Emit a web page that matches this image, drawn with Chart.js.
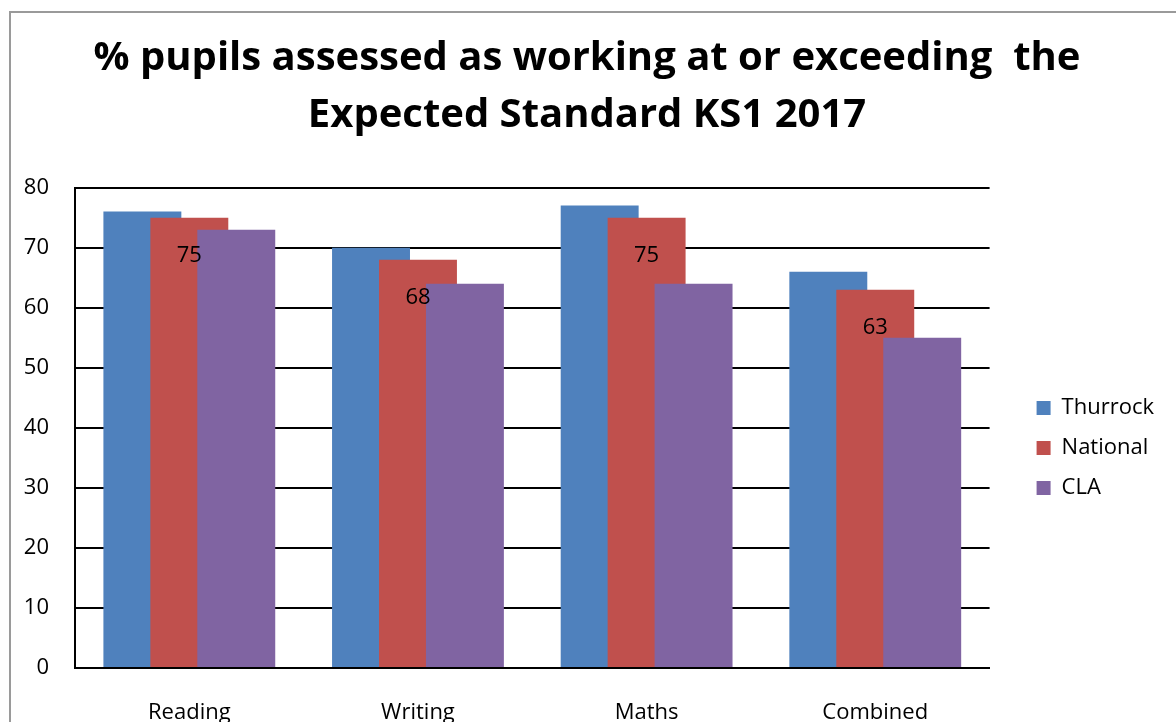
<!DOCTYPE html>
<html>
<head>
<meta charset="utf-8">
<script src="https://cdn.jsdelivr.net/npm/chart.js@4/dist/chart.umd.min.js"></script>
<style>
  body { margin: 0; background: #fff; }
  #frame { position: absolute; left: 9px; top: 11px; width: 1300px; height: 900px; border: 2px solid #9a9a9a; }
  #wrap { position: absolute; left: 0; top: 0; width: 1176px; height: 722px; }
</style>
</head>
<body>
<div id="frame"></div>
<div id="wrap"><canvas id="myChart" width="1176" height="722"></canvas></div>
<script>
var categories = ["Reading", "Writing", "Maths", "Combined"];
var thurrock = [76, 70, 77, 66];
var national = [75, 68, 75, 63];
var cla = [73, 64, 64, 55];
var yTicks = [0, 10, 20, 30, 40, 50, 60, 70, 80];

var font = "'Open Sans', 'Noto Sans', sans-serif";

// bars overlap like Excel: later series sit on top, National gets value labels
var overlapPlugin = {
    id: "overlap",
    beforeDatasetsDraw: function (chart) {
        var metas = chart.getSortedVisibleDatasetMetas().slice().sort(function (a, b) { return a.index - b.index; });
        metas.forEach(function (m) { m.controller.draw(); });

        var ctx = chart.ctx;
        var meta = chart.getDatasetMeta(1);
        ctx.save();
        ctx.fillStyle = "#000";
        ctx.font = "22px " + font;
        ctx.textAlign = "center";
        ctx.textBaseline = "middle";
        meta.data.forEach(function (bar, i) {
            ctx.fillText(String(national[i]), bar.x, bar.y + 38);
        });
        ctx.restore();
        return false;
    }
};

new Chart("myChart", {
    type: "bar",
    data: {
        labels: categories,
        datasets: [
            { label: "Thurrock", data: thurrock, backgroundColor: "#4F81BD" },
            { label: "National", data: national, backgroundColor: "#C0504D" },
            { label: "CLA", data: cla, backgroundColor: "#8064A2" }
        ]
    },
    options: {
        responsive: false,
        animation: false,
        datasets: {
            bar: { categoryPercentage: 0.616, barPercentage: 1.66 }
        },
        layout: { padding: { left: 10, right: 12, top: 0, bottom: 0 } },
        plugins: {
            title: {
                display: true,
                text: ["% pupils assessed as working at or exceeding  the", "Expected Standard KS1 2017"],
                color: "#000",
                font: { family: font, size: 40, weight: "bold", lineHeight: 1.42 },
                padding: { top: 30, bottom: 44 }
            },
            legend: {
                position: "right",
                title: { display: true, text: "", font: { size: 1, lineHeight: 1 }, padding: { top: 173, bottom: 0 } },
                labels: {
                    color: "#000",
                    font: { family: font, size: 22 },
                    boxWidth: 14,
                    boxHeight: 14,
                    padding: 18
                }
            },
            tooltip: { enabled: false }
        },
        scales: {
            x: {
                grid: { display: false },
                border: { color: "#000", width: 2 },
                ticks: { color: "#000", font: { family: font, size: 22 }, padding: 24 },
                afterFit: function (s) { s.height = 54; }
            },
            y: {
                min: 0,
                max: 80,
                afterBuildTicks: function (s) { s.ticks = yTicks.map(function (v) { return { value: v }; }); },
                grid: { color: "#000", lineWidth: 2, drawTicks: false },
                border: { color: "#000", width: 2 },
                ticks: { color: "#000", font: { family: font, size: 22 }, padding: 26 },
                afterFit: function (s) { s.width = 65; }
            },
            gap: {
                position: "right",
                grid: { display: false },
                border: { display: false },
                ticks: { display: false },
                afterFit: function (s) { s.width = 29; }
            }
        }
    },
    plugins: [overlapPlugin]
});
</script>
</body>
</html>
